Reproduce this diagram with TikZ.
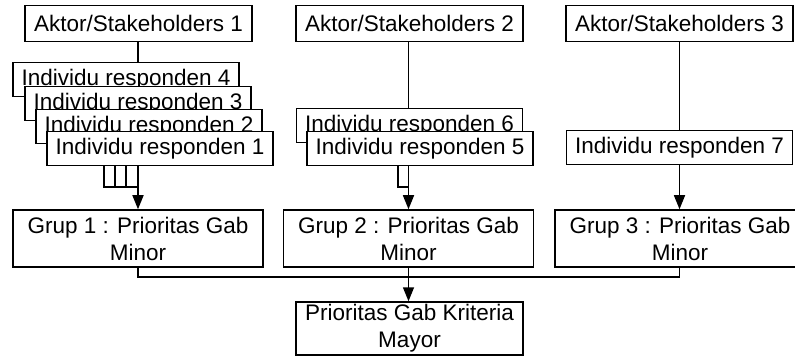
\documentclass[tikz,border=0pt]{standalone}
\usepackage{fontspec}
\setmainfont{Liberation Sans}
\usepackage{tikz}
\usetikzlibrary{shapes,arrows,arrows.meta,backgrounds}

\tikzset{
  box/.style={draw, fill=white, line width=1.5pt, inner sep=0pt,
    minimum width=227pt, minimum height=36pt,
    font=\fontsize{22.5}{27}\selectfont},
  indbox/.style={box, minimum width=226pt, minimum height=34pt},
  grupbox/.style={box, minimum width=250pt, minimum height=57pt, align=center},
  hasilbox/.style={box, minimum height=53pt, align=center},
  link/.style={line width=1.5pt},
  arr/.style={link, -{Triangle[width=11pt,length=14pt]}}
}

\begin{document}
\begin{tikzpicture}[x=1pt, y=-1pt]
  \clip (0,0) rectangle (795,358);
  % aktor
  \node[box] (akt1) at (138.5,23.5) {Aktor/Stakeholders 1};
  \node[box] (akt2) at (409.5,23.5) {Aktor/Stakeholders 2};
  \node[box] (akt3) at (679.5,23.5) {Aktor/Stakeholders 3};

  % responden
  \node[indbox] (ind4) at (126,79.5) {Individu responden 4};
  \node[indbox] (ind3) at (138,103.5) {Individu responden 3};
  \node[indbox] (ind2) at (149,126.5) {Individu responden 2};
  \node[indbox] (ind1) at (160,148.5) {Individu responden 1};
  \node[indbox] (ind6) at (409.5,125.5) {Individu responden 6};
  \node[indbox] (ind5) at (420,148.5) {Individu responden 5};
  \node[indbox] (ind7) at (679.5,147.5) {Individu responden 7};

  % grup
  \node[grupbox] (grup1) at (138,238.5) {Grup 1 : Prioritas Gab\\Minor};
  \node[grupbox] (grup2) at (408.5,238.5) {Grup 2 : Prioritas Gab\\Minor};
  \node[grupbox] (grup3) at (680,238.5) {Grup 3 : Prioritas Gab\\Minor};
  \node[hasilbox] (hasil) at (409.5,328.5) {Prioritas Gab Kriteria\\Mayor};

  % junctions
  \coordinate (j4) at (104,187);
  \coordinate (j3) at (115,187);
  \coordinate (j2) at (126,187);
  \coordinate (m1) at (138,187);
  \coordinate (j6) at (398,187);
  \coordinate (m2) at (408.5,187);
  \coordinate (bus) at (408.5,277);

  % draw diagram
  \begin{scope}[on background layer]
    \draw[link] (akt1.south -| m1) -- (m1 |- ind4.north);
    \draw[link] (ind4.south -| j4) -- (j4) -- (m1);
    \draw[link] (ind3.south -| j3) -- (j3);
    \draw[link] (ind2.south -| j2) -- (j2);
    \draw[arr] (ind1.south -| m1) -- (grup1.north);

    \draw[link] (akt2.south -| m2) -- (m2 |- ind6.north);
    \draw[link] (ind6.south -| j6) -- (j6) -- (m2);
    \draw[arr] (ind5.south -| m2) -- (grup2.north);

    \draw[link] (akt3) -- (ind7);
    \draw[arr] (ind7) -- (ind7 |- grup3.north);

    \draw[link] (grup1.south) |- (bus) -| (grup3.south -| ind7);
    \draw[link] (grup2.south) -- (bus);
    \draw[arr] (bus) -- (hasil.north -| bus);
  \end{scope}
\end{tikzpicture}
\end{document}
